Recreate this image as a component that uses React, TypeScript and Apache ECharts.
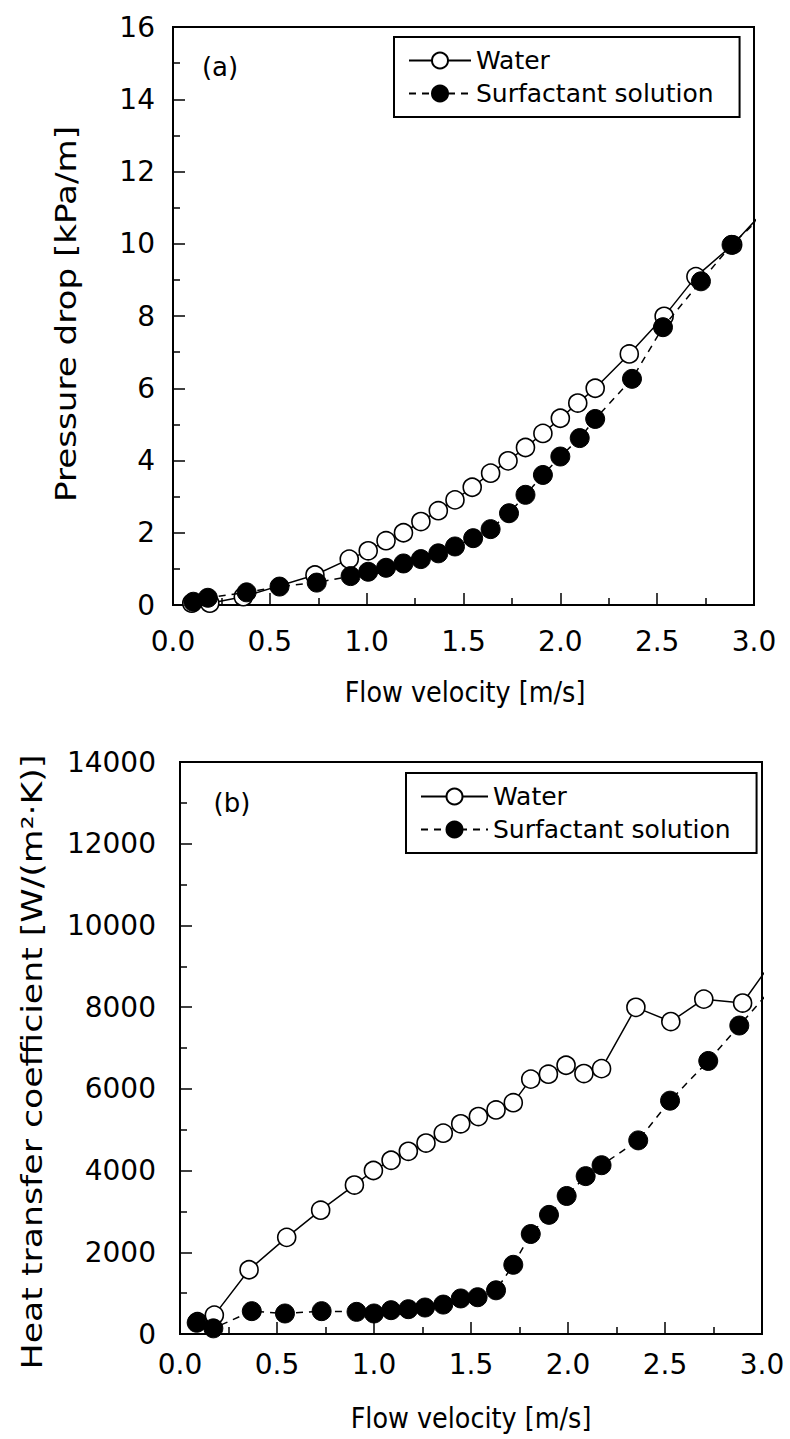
import React, { useEffect, useRef } from "react";
import * as echarts from "echarts";

// Panel (a): pressure drop [kPa/m] vs flow velocity [m/s]
const waterVelA = [0.097, 0.19, 0.363, 0.733, 0.91, 1.008, 1.1, 1.19, 1.28, 1.37, 1.456, 1.545, 1.64, 1.73, 1.82, 1.91, 2.0, 2.09, 2.18, 2.356, 2.536, 2.7, 2.89, 3.05];
const waterDpA = [0.05, 0.05, 0.23, 0.83, 1.27, 1.5, 1.78, 2.0, 2.31, 2.61, 2.91, 3.26, 3.65, 3.99, 4.36, 4.75, 5.17, 5.59, 6.0, 6.95, 7.99, 9.09, 9.97, 10.9];
const surfVelA = [0.105, 0.18, 0.38, 0.55, 0.742, 0.917, 1.008, 1.1, 1.19, 1.28, 1.37, 1.456, 1.55, 1.64, 1.735, 1.82, 1.91, 2.0, 2.1, 2.18, 2.37, 2.53, 2.726, 2.884, 3.05];
const surfDpA = [0.09, 0.2, 0.35, 0.51, 0.62, 0.8, 0.92, 1.03, 1.15, 1.27, 1.43, 1.62, 1.85, 2.1, 2.54, 3.05, 3.6, 4.11, 4.62, 5.15, 6.26, 7.69, 8.96, 9.97, 10.8];

// Panel (b): heat transfer coefficient [W/(m2.K)] vs flow velocity [m/s]
const waterVelB = [0.09, 0.177, 0.356, 0.55, 0.725, 0.899, 0.997, 1.088, 1.177, 1.268, 1.357, 1.447, 1.538, 1.629, 1.718, 1.808, 1.899, 1.99, 2.082, 2.173, 2.35, 2.53, 2.7, 2.9, 3.05];
const waterHB = [300, 462, 1572, 2365, 3030, 3645, 4002, 4252, 4471, 4673, 4916, 5144, 5322, 5484, 5662, 6238, 6359, 6578, 6374, 6495, 7995, 7647, 8196, 8100, 9100];
const surfVelB = [0.086, 0.172, 0.37, 0.541, 0.73, 0.91, 1.0, 1.088, 1.177, 1.263, 1.357, 1.447, 1.534, 1.629, 1.718, 1.808, 1.902, 1.993, 2.091, 2.173, 2.362, 2.526, 2.723, 2.883, 3.05];
const surfHB = [275, 138, 559, 502, 559, 542, 502, 583, 607, 648, 720, 870, 900, 1069, 1694, 2447, 2916, 3378, 3864, 4131, 4739, 5711, 6683, 7550, 8450];

const seriesNames = ["Water", "Surfactant solution"];
const panelLabels = ["(a)", "(b)"];
const xTitle = "Flow velocity [m/s]";
const yTitles = ["Pressure drop [kPa/m]", "Heat transfer coefficient [W/(m²·K)]"];

const FONT = "DejaVu Sans";

const zip = (xs: number[], ys: number[]) => xs.map((x, i) => [x, ys[i]]);

export default function App() {
  const ref = useRef<HTMLDivElement>(null);
  useEffect(() => {
    if (!ref.current) return;
    const chart = echarts.init(ref.current, undefined, { renderer: "svg" });
    const axisCommon = {
      axisLine: { show: true, onZero: false, lineStyle: { color: "#000", width: 2 } },
      axisTick: { show: true, inside: true, length: 12, lineStyle: { color: "#000", width: 1.5 } },
      minorTick: { show: true, splitNumber: 2, length: 7, lineStyle: { color: "#000", width: 1.5 } },
      splitLine: { show: false },
      minorSplitLine: { show: false },
    };
    const xAxisFor = (gi: number, margin: number) => ({
      ...axisCommon,
      type: "value",
      gridIndex: gi,
      min: 0,
      max: 3,
      interval: 0.5,
      axisLabel: { color: "#000", fontSize: 28, fontFamily: FONT, margin, formatter: (v: number) => v.toFixed(1) },
    });
    const yAxisFor = (gi: number, max: number, interval: number, margin: number) => ({
      ...axisCommon,
      type: "value",
      gridIndex: gi,
      min: 0,
      max,
      interval,
      axisLabel: { color: "#000", fontSize: 28, fontFamily: FONT, margin, formatter: (v: number) => String(v) },
    });
    const waterStyle = (xi: number, data: number[][]) => ({
      name: seriesNames[0],
      type: "line",
      xAxisIndex: xi,
      yAxisIndex: xi,
      data,
      clip: true,
      symbol: "circle",
      symbolSize: 18,
      itemStyle: { color: "#fff", borderColor: "#000", borderWidth: 1.6 },
      lineStyle: { color: "#000", width: 1.5, type: "solid" },
      z: 2,
    });
    const surfStyle = (xi: number, data: number[][]) => ({
      name: seriesNames[1],
      type: "line",
      xAxisIndex: xi,
      yAxisIndex: xi,
      data,
      clip: true,
      symbol: "circle",
      symbolSize: 19,
      itemStyle: { color: "#000", borderColor: "#000", borderWidth: 1 },
      lineStyle: { color: "#000", width: 1.5, type: [7, 6] },
      z: 3,
    });
    const legendFor = (left: number, top: number, iw: number) => ({
      show: true,
      left,
      top,
      orient: "vertical",
      data: seriesNames,
      borderColor: "#000",
      borderWidth: 2,
      padding: [11, 26, 11, 14],
      itemGap: 8,
      itemWidth: iw,
      itemHeight: 20,
      textStyle: { color: "#000", fontSize: 25, fontFamily: FONT },
    });
    const textStyle = (text: string, size: number) => ({
      text,
      fontSize: size,
      fontFamily: FONT,
      fill: "#000",
      align: "center",
      verticalAlign: "middle",
      textAlign: "center",
      textVerticalAlign: "middle",
    });
    chart.setOption({
      animation: false,
      backgroundColor: "#fff",
      grid: [
        { left: 173, top: 27, right: 36, height: 578, show: true, borderColor: "#000", borderWidth: 2, backgroundColor: "transparent" },
        { left: 180, top: 762, right: 28, height: 572, show: true, borderColor: "#000", borderWidth: 2, backgroundColor: "transparent" },
      ],
      legend: [legendFor(394, 37, 62), legendFor(406, 773, 67)],
      xAxis: [xAxisFor(0, 22), xAxisFor(1, 16)],
      yAxis: [yAxisFor(0, 16, 2, 18), yAxisFor(1, 14000, 2000, 24)],
      series: [
        waterStyle(0, zip(waterVelA, waterDpA)),
        surfStyle(0, zip(surfVelA, surfDpA)),
        waterStyle(1, zip(waterVelB, waterHB)),
        surfStyle(1, zip(surfVelB, surfHB)),
      ],
      graphic: [
        { type: "text", x: 220, y: 67, style: textStyle(panelLabels[0], 26) },
        { type: "text", x: 232, y: 803, style: textStyle(panelLabels[1], 26) },
        { type: "text", x: 465, y: 692, scaleX: 0.88, style: textStyle(xTitle, 29) },
        { type: "text", x: 471, y: 1418, scaleX: 0.88, style: textStyle(xTitle, 29) },
        { type: "text", x: 66, y: 314, rotation: Math.PI / 2, scaleX: 1.22, style: textStyle(yTitles[0], 28) },
        { type: "text", x: 32, y: 1062, rotation: Math.PI / 2, scaleX: 1.24, style: textStyle(yTitles[1], 28) },
      ],
    });
    return () => chart.dispose();
  }, []);
  return <div ref={ref} style={{ position: "absolute", left: 0, top: 0, width: 790, height: 1439 }} />;
}
